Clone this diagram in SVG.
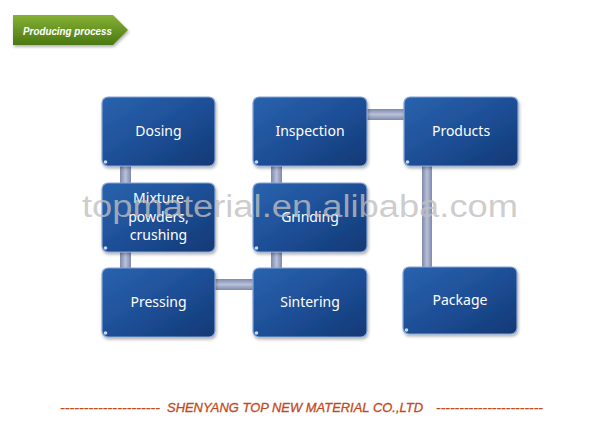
<svg xmlns="http://www.w3.org/2000/svg" width="600" height="433" viewBox="0 0 600 433">
<defs>
<linearGradient id="boxg" x1="0" y1="0" x2="1" y2="1">
<stop offset="0" stop-color="#2a63ae"/>
<stop offset="0.55" stop-color="#1c4d94"/>
<stop offset="1" stop-color="#123874"/>
</linearGradient>
<linearGradient id="vbar" x1="0" y1="0" x2="1" y2="0">
<stop offset="0" stop-color="#7d89ad"/>
<stop offset="0.5" stop-color="#b9c1d8"/>
<stop offset="1" stop-color="#7d89ad"/>
</linearGradient>
<linearGradient id="hbar" x1="0" y1="0" x2="0" y2="1">
<stop offset="0" stop-color="#7d89ad"/>
<stop offset="0.5" stop-color="#b9c1d8"/>
<stop offset="1" stop-color="#7d89ad"/>
</linearGradient>
<linearGradient id="greeng" x1="0" y1="0" x2="0" y2="1">
<stop offset="0" stop-color="#86b134"/>
<stop offset="1" stop-color="#4a7812"/>
</linearGradient>
<filter id="sh" x="-10%" y="-10%" width="130%" height="130%">
<feDropShadow dx="1" dy="2" stdDeviation="1.5" flood-color="#000" flood-opacity="0.3"/>
</filter>
</defs>
<style>
.box{fill:url(#boxg);stroke:#86a6d8;stroke-width:1.2;filter:url(#sh)}
.hl{fill:#e8f0ff;opacity:0.85}
.lbl{font-family:"Noto Sans","Liberation Sans",sans-serif;font-size:14px;fill:#ffffff;text-anchor:middle}
.foot{font-family:"Liberation Sans",sans-serif;font-size:13px;font-style:italic;fill:#c4481a;stroke:#c4481a;stroke-width:0.3}
</style>
<rect width="600" height="433" fill="#ffffff"/>
<g id="header">
<path d="M13,15 L113,15 L128,30 L113,45 L13,45 Z" fill="url(#greeng)" filter="url(#sh)"/>
<text x="23" y="34.5" font-family="Liberation Sans,sans-serif" font-size="10.5" font-weight="bold" font-style="italic" fill="#ffffff" textLength="89" lengthAdjust="spacingAndGlyphs">Producing process</text>
</g>
<g id="connectors">
<rect x="120" y="164" width="11" height="21" fill="url(#vbar)"/>
<rect x="120" y="250" width="11" height="20" fill="url(#vbar)"/>
<rect x="271" y="164" width="11" height="21" fill="url(#vbar)"/>
<rect x="271" y="250" width="11" height="20" fill="url(#vbar)"/>
<rect x="422" y="164" width="10" height="105" fill="url(#vbar)"/>
<rect x="213" y="279" width="42" height="11" fill="url(#hbar)"/>
<rect x="365" y="109" width="41" height="11" fill="url(#hbar)"/>
</g>
<g id="dosing">
<rect class="box" x="102" y="97" width="113" height="69" rx="6"/>
<circle class="hl" cx="105.5" cy="162" r="1.8"/>
<text class="lbl" x="158.5" y="136">Dosing</text>
</g>
<g id="inspection">
<rect class="box" x="253" y="97" width="114" height="69" rx="6"/>
<circle class="hl" cx="256.5" cy="162" r="1.8"/>
<text class="lbl" x="310" y="136">Inspection</text>
</g>
<g id="products">
<rect class="box" x="404" y="97" width="114" height="69" rx="6"/>
<circle class="hl" cx="407.5" cy="162" r="1.8"/>
<text class="lbl" x="461" y="136">Products</text>
</g>
<g id="mixture">
<rect class="box" x="102" y="183" width="113" height="69" rx="6"/>
<circle class="hl" cx="105.5" cy="248" r="1.8"/>
<text class="lbl" x="158.5" y="203">Mixture</text>
<text class="lbl" x="158.5" y="222">powders,</text>
<text class="lbl" x="158.5" y="240">crushing</text>
</g>
<g id="grinding">
<rect class="box" x="253" y="183" width="114" height="69" rx="6"/>
<circle class="hl" cx="256.5" cy="248" r="1.8"/>
<text class="lbl" x="310" y="222">Grinding</text>
</g>
<g id="pressing">
<rect class="box" x="102" y="268" width="113" height="69" rx="6"/>
<circle class="hl" cx="105.5" cy="333" r="1.8"/>
<text class="lbl" x="158.5" y="307">Pressing</text>
</g>
<g id="sintering">
<rect class="box" x="253" y="268" width="114" height="69" rx="6"/>
<circle class="hl" cx="256.5" cy="333" r="1.8"/>
<text class="lbl" x="310" y="307">Sintering</text>
</g>
<g id="package">
<rect class="box" x="403" y="267" width="114" height="67" rx="6"/>
<circle class="hl" cx="406.5" cy="330" r="1.8"/>
<text class="lbl" x="460" y="305">Package</text>
</g>
<text x="82" y="217" font-family="Liberation Sans,sans-serif" font-size="31" fill="#bfbfbf" fill-opacity="0.8" textLength="436" lengthAdjust="spacingAndGlyphs">topmaterial.en.alibaba.com</text>
<g id="footer">
<text class="foot" x="60" y="412" textLength="100" lengthAdjust="spacingAndGlyphs">---------------------</text>
<text class="foot" x="167" y="412" textLength="256" lengthAdjust="spacingAndGlyphs">SHENYANG TOP NEW MATERIAL CO.,LTD</text>
<text class="foot" x="436" y="412" textLength="107" lengthAdjust="spacingAndGlyphs">-----------------------</text>
</g>
</svg>
